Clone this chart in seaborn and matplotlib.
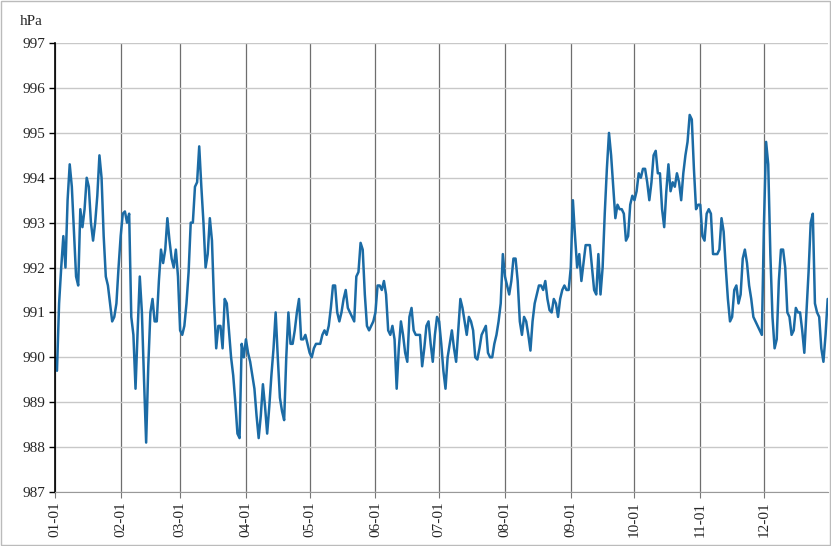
import numpy as np
import pandas as pd
import matplotlib
matplotlib.use("Agg")
import matplotlib.pyplot as plt
import seaborn as sns

# daily mean pressure (hPa)
jan = [990.0, 989.7, 991.2, 992.0, 992.7, 992.0, 993.5, 994.3, 993.8, 992.8,
       991.8, 991.6, 993.3, 992.9, 993.3, 994.0, 993.8, 993.0, 992.6, 993.0,
       993.6, 994.5, 994.0, 992.7, 991.8, 991.6, 991.2, 990.8, 990.9, 991.2, 992.0]
feb = [992.7, 993.2, 993.25, 993.0, 993.2, 990.9, 990.5, 989.3, 990.6, 991.8,
       991.0, 989.5, 988.1, 989.8, 991.0, 991.3, 990.8, 990.8, 991.7, 992.4,
       992.1, 992.4, 993.1, 992.6, 992.2, 992.0, 992.4, 991.8]
mar = [990.6, 990.5, 990.7, 991.2, 991.9, 993.0, 993.0, 993.8, 993.9, 994.7,
       993.8, 993.0, 992.0, 992.3, 993.1, 992.6, 991.2, 990.2, 990.7, 990.7,
       990.2, 991.3, 991.2, 990.6, 990.0, 989.6, 989.0, 988.3, 988.2, 990.3, 990.0]
apr = [990.4, 990.1, 989.9, 989.6, 989.3, 988.7, 988.2, 988.7, 989.4, 988.9,
       988.3, 988.9, 989.6, 990.2, 991.0, 990.0, 989.1, 988.8, 988.6, 990.0,
       991.0, 990.3, 990.3, 990.6, 991.0, 991.3, 990.4, 990.4, 990.5, 990.3]
may = [990.1, 990.0, 990.2, 990.3, 990.3, 990.3, 990.5, 990.6, 990.5, 990.7,
       991.1, 991.6, 991.6, 991.0, 990.8, 991.0, 991.3, 991.5, 991.1, 991.0,
       990.9, 990.8, 991.8, 991.9, 992.55, 992.4, 991.4, 990.7, 990.6, 990.7, 990.8]
jun = [991.0, 991.6, 991.6, 991.5, 991.7, 991.4, 990.6, 990.5, 990.7, 990.4,
       989.3, 990.2, 990.8, 990.5, 990.1, 989.9, 990.9, 991.1, 990.6, 990.5,
       990.5, 990.5, 989.8, 990.2, 990.7, 990.8, 990.3, 989.9, 990.5, 990.9]
jul = [990.8, 990.3, 989.7, 989.3, 990.0, 990.3, 990.6, 990.2, 989.9, 990.6,
       991.3, 991.1, 990.8, 990.5, 990.9, 990.8, 990.6, 990.0, 989.95, 990.2,
       990.5, 990.6, 990.7, 990.1, 990.0, 990.0, 990.3, 990.5, 990.8, 991.2, 992.3]
aug = [991.8, 991.6, 991.4, 991.7, 992.2, 992.2, 991.7, 990.8, 990.5, 990.9,
       990.8, 990.5, 990.15, 990.8, 991.2, 991.4, 991.6, 991.6, 991.5, 991.7,
       991.3, 991.05, 991.0, 991.3, 991.2, 990.9, 991.3, 991.5, 991.6, 991.5, 991.5]
sep = [992.0, 993.5, 992.7, 992.0, 992.3, 991.7, 992.1, 992.5, 992.5, 992.5,
       992.0, 991.5, 991.4, 992.3, 991.4, 992.0, 993.2, 994.2, 995.0, 994.5,
       993.8, 993.1, 993.4, 993.3, 993.3, 993.2, 992.6, 992.7, 993.4, 993.6]
oct_ = [993.5, 993.7, 994.1, 994.0, 994.2, 994.2, 993.9, 993.5, 993.9, 994.5,
        994.6, 994.1, 994.1, 993.3, 992.9, 993.7, 994.3, 993.7, 993.9, 993.8,
        994.1, 993.9, 993.5, 994.1, 994.5, 994.8, 995.4, 995.3, 994.2, 993.3, 993.4]
nov = [993.4, 992.7, 992.6, 993.2, 993.3, 993.2, 992.3, 992.3, 992.3, 992.4,
       993.1, 992.8, 992.0, 991.3, 990.8, 990.9, 991.5, 991.6, 991.2, 991.4,
       992.2, 992.4, 992.1, 991.6, 991.3, 990.9, 990.8, 990.7, 990.6, 990.5]
dec = [993.0, 994.8, 994.3, 992.3, 990.9, 990.2, 990.4, 991.7, 992.4, 992.4,
       992.0, 991.0, 990.9, 990.5, 990.6, 991.1, 991.0, 991.0, 990.6, 990.1,
       991.0, 991.9, 993.0, 993.2, 991.2, 991.0, 990.9, 990.2, 989.9, 990.5, 991.3]

months = [jan, feb, mar, apr, may, jun, jul, aug, sep, oct_, nov, dec]
month_labels = ["01-01", "02-01", "03-01", "04-01", "05-01", "06-01",
                "07-01", "08-01", "09-01", "10-01", "11-01", "12-01"]
y_ticks = list(range(987, 998))

values = [v for m in months for v in m]
df = pd.DataFrame({"day": np.arange(len(values)), "hPa": values})
month_starts = np.cumsum([0] + [len(m) for m in months[:-1]])

sns.set_style("white")
plt.rcParams["font.family"] = ["Liberation Serif", "DejaVu Serif"]

fig = plt.figure(figsize=(8.31, 5.46), dpi=100)
ax = fig.add_axes([0.066, 0.099, 0.93, 0.822])

sns.lineplot(data=df, x="day", y="hPa", color="#1b6ba5", linewidth=1.8, ax=ax)

ax.set_xlim(0, len(values) - 1)
ax.set_ylim(987, 997)
ax.set_yticks(y_ticks)
ax.set_yticklabels([str(t) for t in y_ticks], fontsize=11)
ax.set_xticks(month_starts)
ax.set_xticklabels(month_labels, rotation=90, fontsize=11)

ax.grid(axis="y", color="#c8c8c8", linewidth=1.0)
ax.grid(axis="x", color="#6e6e6e", linewidth=0.9)
ax.set_axisbelow(True)

ax.set_xlabel("")
ax.set_ylabel("")
for side in ["top", "right"]:
    ax.spines[side].set_visible(False)
ax.spines["left"].set_color("black")
ax.spines["left"].set_linewidth(1.2)
ax.spines["bottom"].set_color("#999999")
ax.tick_params(axis="y", length=4, width=1, color="black", left=True, pad=3)
ax.tick_params(axis="x", length=4, width=0.8, color="#777777", bottom=True, pad=3)

fig.text(0.024, 0.955, "hPa", fontsize=11)

# thin frame around the whole picture
fig.patches.append(plt.Rectangle((0.001, 0.001), 0.998, 0.998, transform=fig.transFigure,
                                 fill=False, edgecolor="#bbbbbb", linewidth=1))

fig.savefig("out.png", dpi=100)
